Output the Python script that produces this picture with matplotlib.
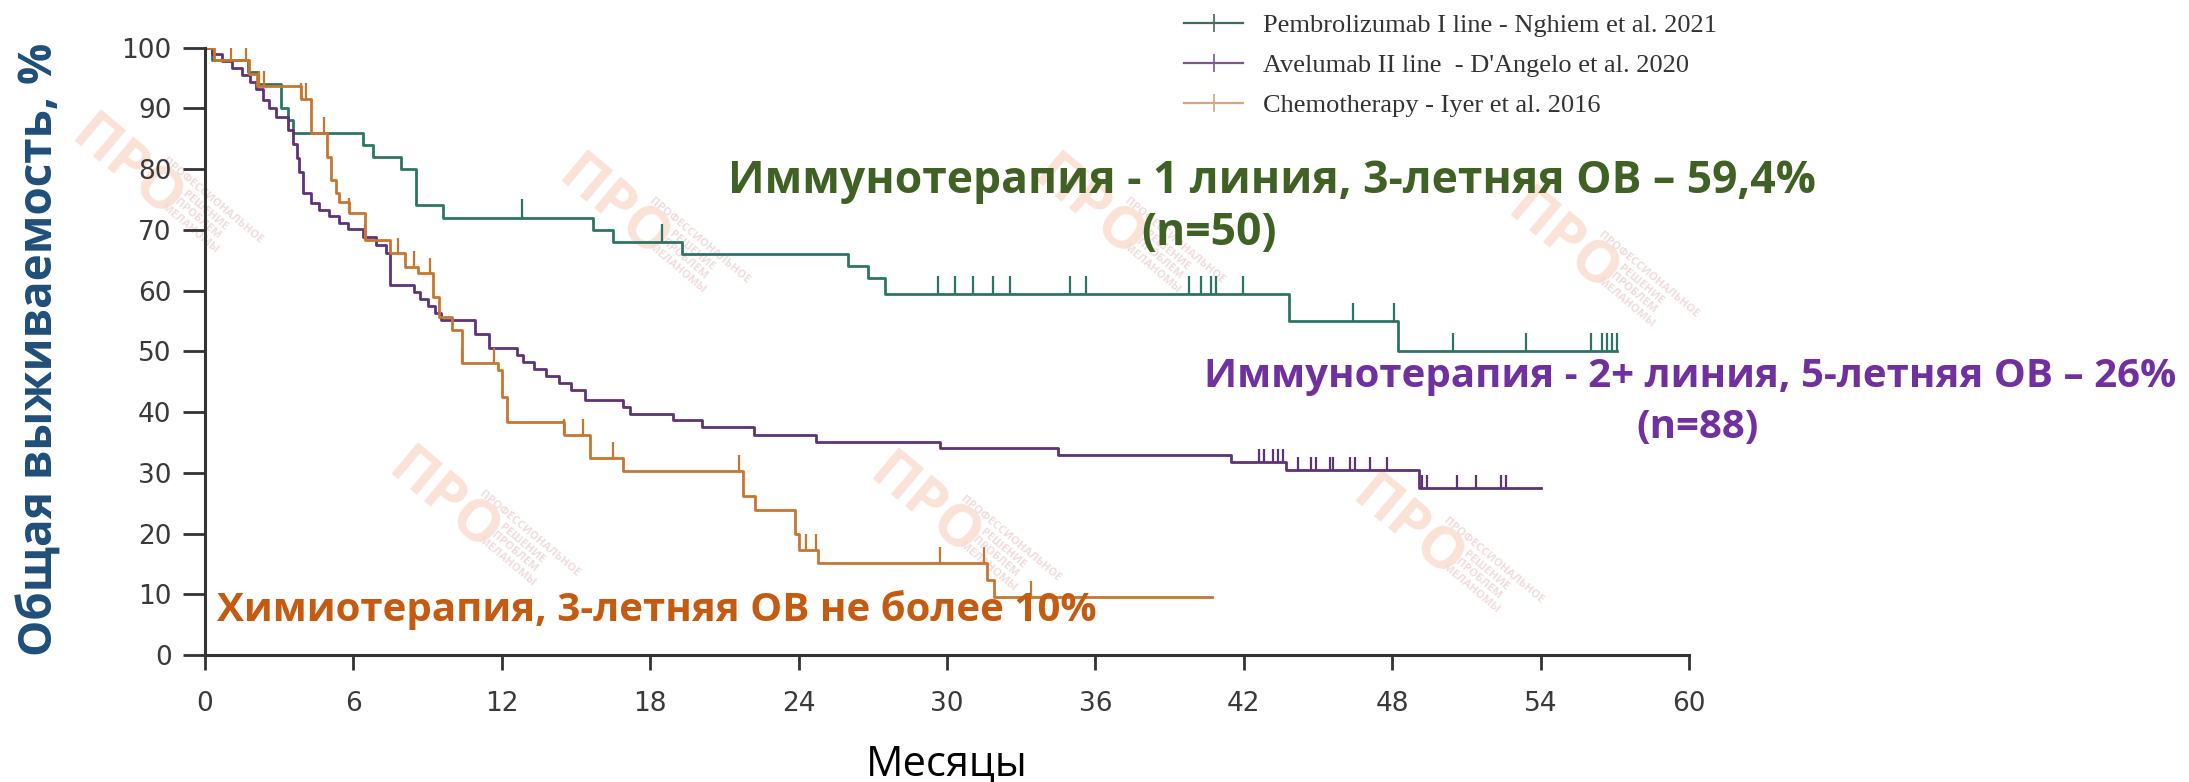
import matplotlib
matplotlib.use("Agg")
import matplotlib.pyplot as plt
from matplotlib.lines import Line2D
import numpy as np

# Kaplan-Meier curves: event times (months) and survival (%) after each step
pembro_t = [0, 0.3, 1.73, 2.13, 3.08, 3.35, 3.55, 6.38, 6.79, 7.93, 8.54, 9.62,
            15.69, 16.5, 19.3, 26.0, 26.8, 27.5, 43.83, 48.25, 57.1]
pembro_s = [100, 98, 96, 94, 90, 88, 86, 84, 82, 80, 74, 72,
            70, 68, 66, 64, 62, 59.4, 55, 50, 50]
pembro_cens = [12.83, 18.46, 29.62, 30.34, 31.06, 31.86, 32.56, 34.97, 35.64,
               39.78, 40.26, 40.66, 40.86, 41.98, 46.4, 48.08, 50.45, 53.41,
               56.05, 56.5, 56.7, 56.9, 57.1]

avel_t = [0, 0.3, 0.7, 1.1, 1.5, 1.8, 2.06, 2.33, 2.6, 2.87, 3.35, 3.55, 3.7,
          3.8, 3.95, 4.29, 4.6, 5.0, 5.4, 5.78, 6.38, 6.9, 7.33, 7.46, 8.47,
          8.7, 9.0, 9.28, 9.55, 10.9, 11.5, 12.6, 12.86, 13.3, 13.8, 14.3,
          14.8, 15.36, 16.9, 17.2, 18.93, 20.1, 22.2, 24.7, 29.7, 34.5, 41.5,
          43.7, 49.1, 54.0]
avel_s = [100, 98.9, 97.7, 96.6, 95.5, 94.3, 93.2, 91.4, 90.0, 88.6, 86.4, 84.1,
          81.8, 79.5, 76.1, 74.4, 73.3, 72.2, 71.1, 70.2, 68.8, 67.5, 66.1, 60.9,
          59.8, 58.6, 57.5, 56.3, 55.2, 52.9, 50.6, 49.4, 48.3, 47.1, 46.0, 44.8,
          43.7, 42.0, 40.9, 39.7, 38.7, 37.5, 36.2, 35.1, 34.0, 32.9, 31.7,
          30.4, 27.5, 27.5]
avel_cens = [42.6, 42.8, 43.2, 43.4, 43.6, 44.2, 44.7, 44.9, 45.5, 45.6, 46.3,
             46.5, 47.1, 47.8, 49.2, 49.4, 50.6, 51.4, 52.4, 52.6]

chemo_t = [0, 0.35, 1.79, 2.1, 3.89, 4.29, 4.94, 5.1, 5.3, 5.4, 5.84, 6.45,
           7.46, 8.1, 8.6, 9.2, 9.45, 10.0, 10.4, 11.85, 12.0, 12.2, 14.5,
           15.56, 16.9, 21.75, 22.24, 23.86, 24.0, 24.8, 31.6, 31.9, 40.7]
chemo_s = [100, 97.9, 95.7, 93.6, 91.6, 85.9, 82.0, 78.2, 76.0, 74.6, 72.7, 68.3,
           66.1, 63.9, 62.8, 59.0, 55.7, 53.5, 48.0, 46.9, 42.5, 38.4, 36.2,
           32.4, 30.3, 26.1, 23.8, 20.0, 17.3, 15.2, 12.4, 9.6, 9.6]
chemo_cens = [1.05, 1.66, 2.2, 2.4, 3.9, 4.1, 4.8, 5.84, 6.45, 7.8, 8.47, 9.1,
              10.4, 11.7, 14.5, 15.3, 16.5, 21.6, 24.3, 24.7, 29.7, 31.5, 33.4]

labels = ["Pembrolizumab I line - Nghiem et al. 2021",
          "Avelumab II line  - D'Angelo et al. 2020",
          "Chemotherapy - Iyer et al. 2016"]
colors = ["#2c7565", "#5e3277", "#c8752e"]
legend_colors = ["#3d6b5c", "#7a5a8c", "#d2a77c"]

x_ticks = np.arange(0, 61, 6)
y_ticks = np.arange(0, 101, 10)

# pale site watermarks, pixel centres
wm_xy = [(126, 170), (613, 210), (443, 503), (924, 508), (1407, 530),
         (1562, 244), (1088, 210)]

W, H = 2189, 782
fig = plt.figure(figsize=(W / 100, H / 100), dpi=100)
ax = fig.add_axes([205 / W, 1 - 655 / H, (1689 - 205) / W, (655 - 47.5) / H])
ax.set_facecolor("none")

for x, y in wm_xy:
    fig.text(x / W, 1 - y / H, "ПРО", rotation=-40, fontsize=42,
             fontweight="bold", color="#fbe2d7", ha="center", va="center",
             family=["Open Sans", "DejaVu Sans"], zorder=-5)
    fig.text((x + 75) / W, 1 - (y + 45) / H,
             "ПРОФЕССИОНАЛЬНОЕ\nРЕШЕНИЕ\nПРОБЛЕМ\nМЕЛАНОМЫ", rotation=-40,
             fontsize=8, fontweight="bold", color="#f1dcdc", ha="center",
             va="center", linespacing=1.1,
             family=["Open Sans", "DejaVu Sans"], zorder=-5)

series = [(pembro_t, pembro_s, pembro_cens, 3.0),
          (avel_t, avel_s, avel_cens, 2.2),
          (chemo_t, chemo_s, chemo_cens, 2.6)]
for (t, s, cens, h), c in zip(series, colors):
    ax.step(t, s, where="post", color=c, lw=2.0)
    # censoring marks sit on the step level at the censor time
    idx = np.searchsorted(t, cens, side="right") - 1
    lev = np.array(s)[idx]
    ax.vlines(cens, lev, lev + h, color=c, lw=1.6)

ax.set_xlim(0, 60)
ax.set_ylim(0, 100)
ax.set_xticks(x_ticks)
ax.set_yticks(y_ticks)
ax.spines["top"].set_visible(False)
ax.spines["right"].set_visible(False)
for sp in ("left", "bottom"):
    ax.spines[sp].set_color("#333333")
    ax.spines[sp].set_linewidth(2.2)
ax.tick_params(axis="y", length=16, width=2, color="#333333", labelsize=19,
               labelcolor="#3a3a3a", pad=8)
ax.tick_params(axis="x", length=11, width=2, color="#333333", labelsize=19,
               labelcolor="#3a3a3a", pad=15)

ax.set_xlabel("Месяцы", fontsize=30, family=["Open Sans", "DejaVu Sans"],
              labelpad=19)
fig.text(40 / W, 1 - 349 / H, "Общая выживаемость, %", rotation=90,
         ha="center", va="center", fontsize=33, fontweight="bold",
         color="#1f4e79", family=["Open Sans", "DejaVu Sans"])

handles = [Line2D([], [], color=c, lw=1.6, marker="|", markersize=13,
                  markeredgewidth=1.2) for c in legend_colors]
fig.legend(handles, labels, loc="upper left",
           bbox_to_anchor=(1184 / W, 1 - 14 / H), frameon=False,
           prop={"family": "Liberation Serif", "size": 19},
           handlelength=2.25, handletextpad=0.76, labelspacing=0.62,
           borderpad=0, borderaxespad=0, numpoints=1, labelcolor="#333333")

ann = dict(fontweight="bold", family=["Open Sans", "DejaVu Sans"],
           ha="center", va="center")
fig.text(1272 / W, 1 - 182 / H, "Иммунотерапия - 1 линия, 3-летняя ОВ – 59,4%",
         fontsize=32, color="#3f6224", **ann)
fig.text(1209 / W, 1 - 233 / H, "(n=50)", fontsize=32, color="#3f6224", **ann)
fig.text(1690 / W, 1 - 377 / H, "Иммунотерапия - 2+ линия, 5-летняя ОВ – 26%",
         fontsize=29, color="#7030a0", **ann)
fig.text(1698 / W, 1 - 427 / H, "(n=88)", fontsize=29, color="#7030a0", **ann)
fig.text(657 / W, 1 - 610 / H, "Химиотерапия, 3-летняя ОВ не более 10%",
         fontsize=29, color="#c55a11", **ann)

fig.savefig("out.png", dpi=100)
